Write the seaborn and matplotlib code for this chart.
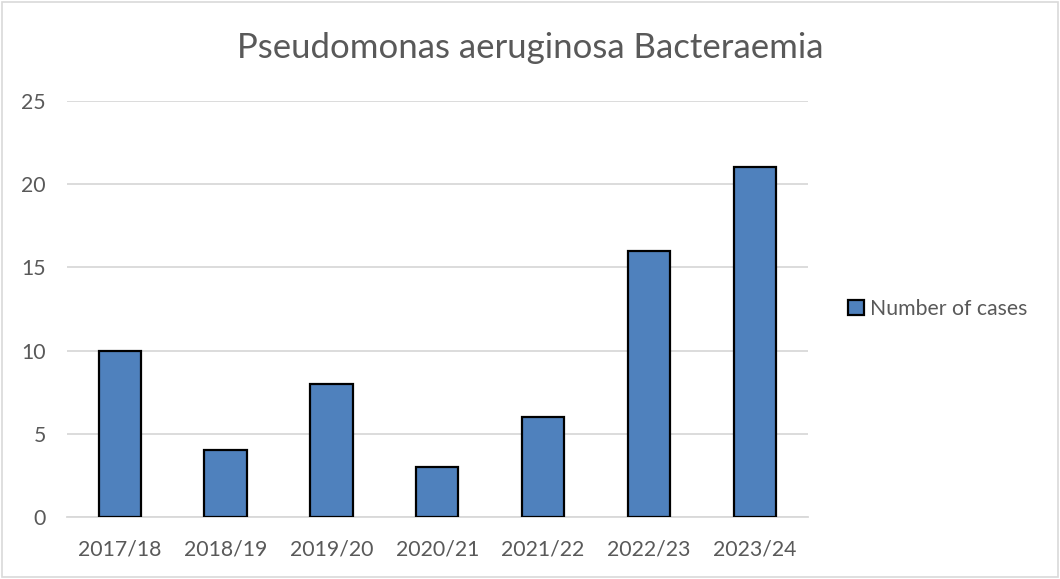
import seaborn as sb
import matplotlib.pyplot as plt
import pandas as pd

anos = ["2017/18", "2018/19", "2019/20", "2020/21", "2021/22", "2022/23", "2023/24"]
casos = [10, 4, 8, 3, 6, 16, 21]
nome_serie = "Number of cases"

df = pd.DataFrame({"Ano": anos, "Casos": casos})

sb.set_style("white")
plt.rcParams["font.family"] = ["Lato", "DejaVu Sans"]

fig = plt.figure(figsize=(10.6, 5.79), dpi=100)
ax = fig.add_axes([0.063, 0.107, 0.699, 0.719])

sb.barplot(data=df, x="Ano", y="Casos", color="#4F81BD", width=0.4,
           edgecolor="black", linewidth=1.6, saturation=1,
           label=nome_serie, ax=ax, zorder=3)

ax.set_ylim(0, 25)
ax.set_yticks([0, 5, 10, 15, 20, 25])
ax.yaxis.grid(True, color="#D9D9D9", linewidth=1.3, zorder=0)
ax.set_axisbelow(True)
for lado in ["top", "right", "left"]:
    ax.spines[lado].set_visible(False)
ax.spines["bottom"].set_color("#D9D9D9")
ax.spines["bottom"].set_linewidth(1.3)
ax.tick_params(axis="both", length=0, colors="#595959", labelsize=15.3)
ax.tick_params(axis="x", pad=16)
ax.tick_params(axis="y", pad=15)
ax.set(xlabel="", ylabel="")

fig.suptitle("Pseudomonas aeruginosa Bacteraemia", x=0.5, y=0.945,
             fontsize=25, color="#595959")

leg = ax.legend(loc="center left", bbox_to_anchor=(1.028, 0.5), frameon=False,
                fontsize=15.3, handlelength=0.75, handleheight=0.75,
                handletextpad=0.3, labelcolor="#595959")

borda = plt.Rectangle((0.002, 0.003), 0.996, 0.994, transform=fig.transFigure,
                      fill=False, edgecolor="#D9D9D9", linewidth=1.2)
fig.patches.append(borda)

fig.savefig("out.png", dpi=100)
